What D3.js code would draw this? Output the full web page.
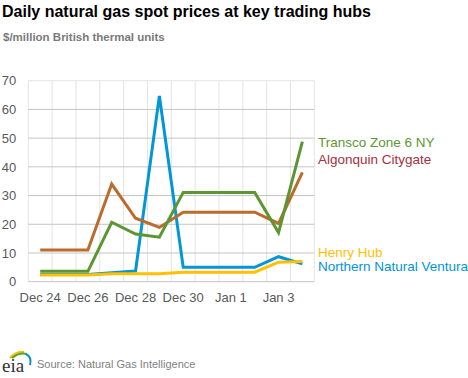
<!DOCTYPE html>
<html>
<head>
<meta charset="utf-8">
<script src="https://cdn.jsdelivr.net/npm/d3@7"></script>
<style>
  body { margin: 0; background: #fff; }
  svg { font-family: Arial, "Liberation Sans", sans-serif; }
</style>
</head>
<body>
<div id="allContainer"></div>
<script>
// data
var dates = ["Dec 24", "Dec 25", "Dec 26", "Dec 27", "Dec 28", "Dec 29", "Dec 30",
             "Dec 31", "Jan 1", "Jan 2", "Jan 3", "Jan 4"];
var tickLabels = ["Dec 24", "Dec 26", "Dec 28", "Dec 30", "Jan 1", "Jan 3"];
var yTicks = [0, 10, 20, 30, 40, 50, 60, 70];

var henryHub    = [2.3, 2.3, 2.3, 2.8, 2.8, 2.8, 3.3, 3.3, 3.3, 3.3, 6.8, 7.0];
var northern    = [2.5, 2.5, 2.5, 3.1, 3.7, 64.7, 5.0, 5.0, 5.0, 5.0, 8.7, 6.2];
var algonquin   = [11.0, 11.0, 11.0, 34.0, 22.1, 18.9, 24.2, 24.2, 24.2, 24.2, 20.3, 38.1];
var transco     = [3.6, 3.6, 3.6, 20.7, 16.6, 15.5, 31.1, 31.1, 31.1, 31.1, 17.1, 48.8];

var series = [
  { name: "Northern Natural Ventura", values: northern,  line: "#0096d7", label: "#0096d7", ly: 271 },
  { name: "Henry Hub",                values: henryHub,  line: "#ffc000", label: "#ffc000", ly: 256.5 },
  { name: "Algonquin Citygate",       values: algonquin, line: "#bd6b2a", label: "#a5303f", ly: 163.5 },
  { name: "Transco Zone 6 NY",        values: transco,   line: "#5c9633", label: "#5c9633", ly: 147 }
];

var W = 468, H = 378;
var plotLeft = 28.3, plotRight = 314.3, plotTop = 80.7, plotBottom = 281.7;

var svg = d3.select("#allContainer")
    .append("svg")
    .attr("width", W)
    .attr("height", H);

// title
svg.append("text")
    .attr("x", 2).attr("y", 16.5)
    .attr("font-size", 16).attr("font-weight", "bold")
    .attr("fill", "#000")
    .text("Daily natural gas spot prices at key trading hubs");

svg.append("text")
    .attr("x", 3).attr("y", 40.5)
    .attr("font-size", 11.5).attr("font-weight", "bold")
    .attr("fill", "#7a7a7a")
    .text("$/million British thermal units");

var xScale = d3.scaleBand()
    .domain(dates)
    .range([plotLeft, plotRight])
    .padding(0);

var yScale = d3.scaleLinear()
    .domain([0, 70])
    .range([plotBottom, plotTop]);

// vertical grid
svg.append("g").selectAll("line")
    .data(dates.concat(["_end"]))
    .enter().append("line")
    .attr("x1", function(d, i) { return plotLeft + i * xScale.bandwidth(); })
    .attr("x2", function(d, i) { return plotLeft + i * xScale.bandwidth(); })
    .attr("y1", plotTop).attr("y2", plotBottom)
    .attr("stroke", "#e4e4e4").attr("stroke-width", 1);

// horizontal grid
svg.append("g").selectAll("line")
    .data(yTicks)
    .enter().append("line")
    .attr("x1", plotLeft).attr("x2", plotRight)
    .attr("y1", function(d) { return yScale(d); })
    .attr("y2", function(d) { return yScale(d); })
    .attr("stroke", function(d) { return d === 70 ? "#e4e4e4" : "#c4c4c4"; })
    .attr("stroke-width", 1);

// y axis labels
var yAxis = d3.axisLeft(yScale).tickValues(yTicks).tickSize(0).tickPadding(12);
var yAxisGroup = svg.append("g")
    .attr("transform", "translate(" + plotLeft + ",0)")
    .call(yAxis);
yAxisGroup.select(".domain").remove();
yAxisGroup.selectAll("text")
    .attr("font-size", 13).attr("fill", "#595959")
    .attr("font-family", "Arial, 'Liberation Sans', sans-serif");

// x axis labels
var xAxis = d3.axisBottom(xScale).tickValues(tickLabels).tickSize(0).tickPadding(11);
var xAxisGroup = svg.append("g")
    .attr("transform", "translate(0," + plotBottom + ")")
    .call(xAxis);
xAxisGroup.select(".domain").remove();
xAxisGroup.selectAll("text")
    .attr("font-size", 13).attr("fill", "#595959")
    .attr("font-family", "Arial, 'Liberation Sans', sans-serif");

var line = d3.line()
    .x(function(d, i) { return xScale(dates[i]) + xScale.bandwidth() / 2; })
    .y(function(d) { return yScale(d); });

svg.append("g").selectAll("path")
    .data(series)
    .enter().append("path")
    .attr("d", function(d) { return line(d.values); })
    .attr("fill", "none")
    .attr("stroke", function(d) { return d.line; })
    .attr("stroke-width", 3)
    .attr("stroke-linejoin", "miter");

// legend labels
svg.append("g").selectAll("text")
    .data(series)
    .enter().append("text")
    .attr("x", 318)
    .attr("y", function(d) { return d.ly; })
    .attr("font-size", 13.5)
    .attr("fill", function(d) { return d.label; })
    .text(function(d) { return d.name; });

// eia logo
var logo = svg.append("g").attr("transform", "translate(2,348)");
logo.append("path").attr("d", "M8,10 Q14,3 22,4").attr("fill", "none").attr("stroke", "#f5c400").attr("stroke-width", 2.2);
logo.append("path").attr("d", "M10,10 Q17,4 25,6").attr("fill", "none").attr("stroke", "#5aa02c").attr("stroke-width", 2.2);
logo.append("path").attr("d", "M24,6 Q30,9 28,17").attr("fill", "none").attr("stroke", "#0a8fd0").attr("stroke-width", 2);
logo.append("text")
    .attr("x", 0).attr("y", 24)
    .attr("font-family", "'Liberation Serif', 'DejaVu Serif', serif")
    .attr("font-size", 19)
    .attr("fill", "#333")
    .text("eia");

svg.append("text")
    .attr("x", 37).attr("y", 367.5)
    .attr("font-size", 11)
    .attr("fill", "#7f7f7f")
    .text("Source: Natural Gas Intelligence");
</script>
</body>
</html>
